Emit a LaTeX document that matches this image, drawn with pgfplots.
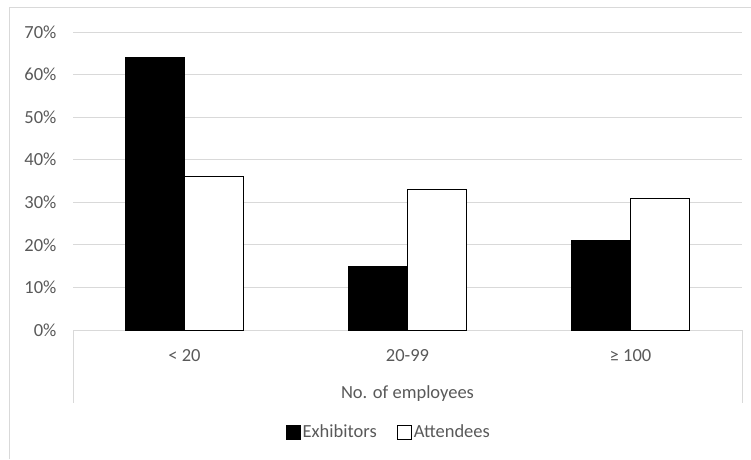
\documentclass[border=0pt]{standalone}
\usepackage{pgfplots}
\pgfplotsset{compat=1.18}
\usepackage{fontspec}
\setmainfont{Carlito}
\definecolor{txtgray}{HTML}{595959}
\definecolor{linegray}{HTML}{D9D9D9}
\newcommand{\chartfont}{\fontsize{18.5pt}{22pt}\selectfont}

\begin{document}
\begin{tikzpicture}
\useasboundingbox (0pt,0pt) rectangle (751pt,459pt);
% chart frame (top and left edges)
\draw[linegray, line width=1pt] (9pt,0pt) -- (9pt,451pt) -- (751pt,451pt);
\begin{axis}[
  at={(73pt,129pt)}, anchor=south west,
  scale only axis, width=669pt, height=298pt,
  ybar=0pt, bar width=59pt,
  xmin=-0.5, xmax=2.5, ymin=0, ymax=70,
  xtick={0,1,2}, xticklabels={{< 20},{20-99},{≥ 100}},
  ytick={0,10,...,70},
  yticklabel={\pgfmathprintnumber{\tick}\%},
  /pgf/number format/assume math mode=true,
  ymajorgrids, grid style={linegray, line width=1pt},
  axis x line*=bottom, axis y line*=left,
  x axis line style={linegray, line width=1pt, -},
  y axis line style={draw=none},
  major tick length=0pt,
  tick label style={font=\chartfont, text=txtgray},
  yticklabel style={xshift=-13pt},
  xticklabel style={yshift=-16pt},
  xlabel={No. of employees},
  xlabel style={font=\chartfont, text=txtgray, yshift=-17pt},
  legend columns=2,
  legend style={draw=none, fill=none, at={(0.472,-0.343)}, anchor=center,
    font=\chartfont, text=txtgray,
    /tikz/every even column/.append style={column sep=18pt},
    nodes={inner xsep=2pt}},
  legend image code/.code={\draw[#1, line width=1pt] (0pt,-7pt) rectangle (14pt,7pt);},
  clip=false,
]
\addplot[fill=black, draw=black] coordinates {(0,64) (1,15) (2,21)};
\addplot[fill=white, draw=black, line width=1pt] coordinates {(0,36) (1,33) (2,31)};
\legend{Exhibitors, Attendees}
\draw[linegray, line width=1pt] (rel axis cs:0,0) -- ([yshift=-73pt]rel axis cs:0,0);
\draw[linegray, line width=1pt] (rel axis cs:1,0) -- ([yshift=-73pt]rel axis cs:1,0);
\end{axis}
\end{tikzpicture}
\end{document}
